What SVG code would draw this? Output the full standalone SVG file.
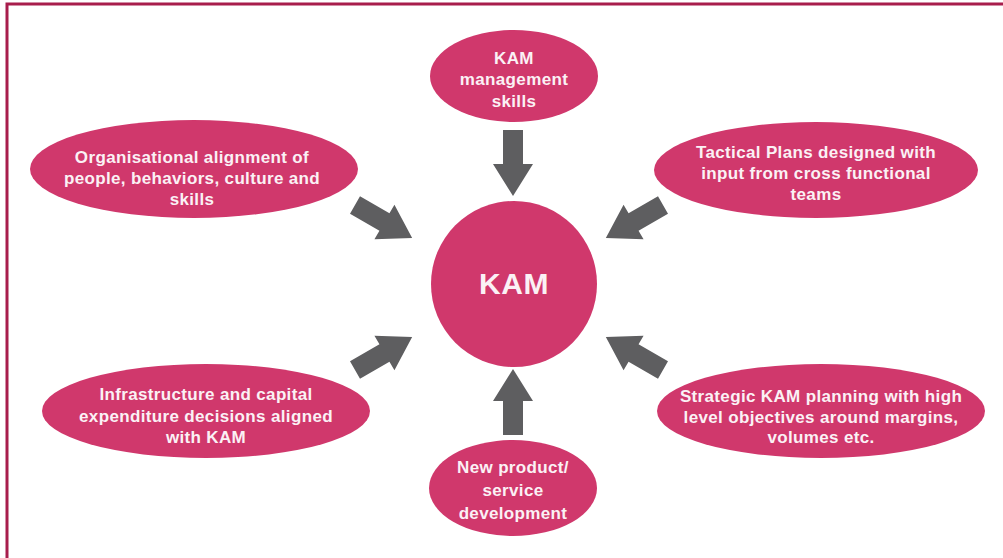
<svg xmlns="http://www.w3.org/2000/svg" width="1003" height="558" viewBox="0 0 1003 558">
  <defs>
    <style>
      .node { fill: #d0386c; }
      .lbl { fill: #fbf1f5; font-family: "Liberation Sans", Arial, sans-serif; font-weight: bold; font-size: 17px; letter-spacing: 0.35px; text-anchor: middle; }
      .big { font-size: 30px; letter-spacing: 0.5px; }
      .arrow { fill: #5e5e60; }
    </style>
    <!-- block arrow pointing along +x, tail at origin, tip at x=66 -->
    <path id="blockArrow" d="M0,-10 H34 V-20 L66,0 L34,20 V10 H0 Z"/>
  </defs>

  <rect width="1003" height="558" fill="#ffffff"/>
  <!-- frame -->
  <path d="M7,558 V4 H1003" fill="none" stroke="#a81d4c" stroke-width="3"/>

  <g id="connectors" class="arrow">
    <use href="#blockArrow" transform="translate(513,130) rotate(90)"/>
    <use href="#blockArrow" transform="translate(513,435) rotate(-90)"/>
    <use href="#blockArrow" transform="translate(355,205) rotate(30)"/>
    <use href="#blockArrow" transform="translate(663,205) rotate(150)"/>
    <use href="#blockArrow" transform="translate(355,370) rotate(-30)"/>
    <use href="#blockArrow" transform="translate(663,370) rotate(-150)"/>
  </g>

  <g id="kam">
    <circle class="node" cx="514" cy="284" r="83"/>
    <text class="lbl big" x="514" y="294">KAM</text>
  </g>

  <g id="management-skills">
    <ellipse class="node" cx="514" cy="76" rx="84" ry="46"/>
    <text class="lbl" x="514" y="64">KAM</text>
    <text class="lbl" x="514" y="85">management</text>
    <text class="lbl" x="514" y="107">skills</text>
  </g>

  <g id="organisational-alignment">
    <ellipse class="node" cx="194" cy="169" rx="164" ry="49"/>
    <text class="lbl" x="192" y="163">Organisational alignment of</text>
    <text class="lbl" x="192" y="184">people, behaviors, culture and</text>
    <text class="lbl" x="192" y="205">skills</text>
  </g>

  <g id="tactical-plans">
    <ellipse class="node" cx="816" cy="170" rx="162" ry="48"/>
    <text class="lbl" x="816" y="158">Tactical Plans designed with</text>
    <text class="lbl" x="816" y="179">input from cross functional</text>
    <text class="lbl" x="816" y="200">teams</text>
  </g>

  <g id="infrastructure">
    <ellipse class="node" cx="206" cy="411" rx="164" ry="47"/>
    <text class="lbl" x="206" y="400">Infrastructure and capital</text>
    <text class="lbl" x="206" y="422">expenditure decisions aligned</text>
    <text class="lbl" x="206" y="443">with KAM</text>
  </g>

  <g id="strategic-planning">
    <ellipse class="node" cx="821" cy="411" rx="164" ry="47"/>
    <text class="lbl" x="821" y="402">Strategic KAM planning with high</text>
    <text class="lbl" x="821" y="423">level objectives around margins,</text>
    <text class="lbl" x="821" y="443">volumes etc.</text>
  </g>

  <g id="new-product">
    <ellipse class="node" cx="513" cy="488" rx="84" ry="48"/>
    <text class="lbl" x="513" y="473">New product/</text>
    <text class="lbl" x="513" y="496">service</text>
    <text class="lbl" x="513" y="519">development</text>
  </g>
</svg>
